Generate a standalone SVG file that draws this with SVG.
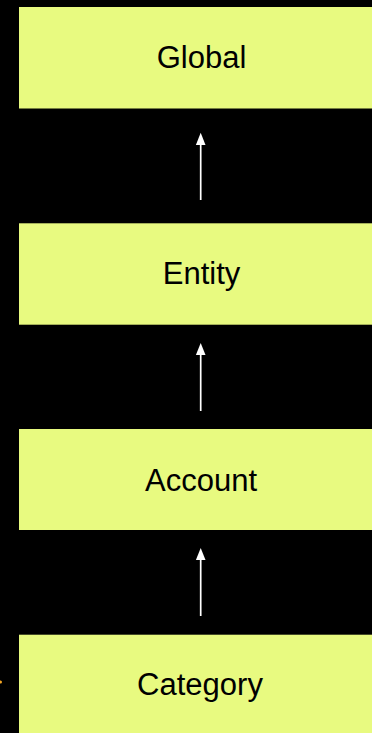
<svg xmlns="http://www.w3.org/2000/svg" width="372" height="733" viewBox="0 0 372 733">
<defs>
<style>
.box{fill:#E8FA80;}
.lbl{font-family:"Liberation Sans",Arial,Helvetica,sans-serif;font-size:31px;fill:#000;text-anchor:middle;}
.conn{stroke:#fff;stroke-width:1.7;fill:none;}
.head{fill:#fff;}
</style>
</defs>
<rect width="372" height="733" fill="#000"/>
<g id="global"><rect class="box" x="19" y="7" width="353" height="101.5"/><text class="lbl" x="201.5" y="68">Global</text></g>
<g id="entity"><rect class="box" x="19" y="223.3" width="353" height="101.4"/><text class="lbl" x="201.5" y="284">Entity</text></g>
<g id="account"><rect class="box" x="19" y="429" width="353" height="101"/><text class="lbl" x="201" y="491">Account</text></g>
<g id="category"><rect class="box" x="19" y="634.7" width="353" height="100"/><text class="lbl" x="200" y="694.5">Category</text></g>
<g id="connectors">
<line class="conn" x1="200.7" y1="200" x2="200.7" y2="144"/><path class="head" d="M200.7 132.7 L205.5 145 L195.9 145 Z"/>
<line class="conn" x1="200.7" y1="411" x2="200.7" y2="354"/><path class="head" d="M200.7 343 L205.5 355 L195.9 355 Z"/>
<line class="conn" x1="200.7" y1="616" x2="200.7" y2="559"/><path class="head" d="M200.7 548 L205.5 560 L195.9 560 Z"/>
</g>
<circle cx="0.5" cy="682" r="1.5" fill="#F5A623"/>
</svg>
